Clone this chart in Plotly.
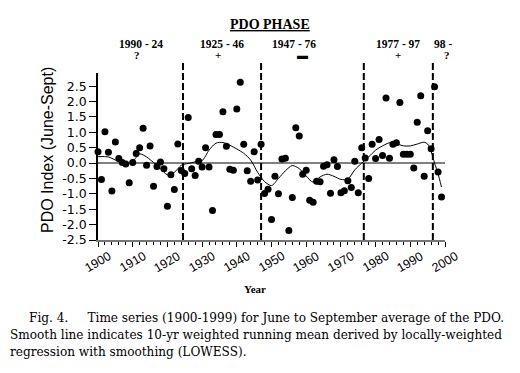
import plotly.graph_objects as go

years = list(range(1900, 2000))
pdo = [0.37, -0.53, 1.02, 0.35, -0.91, 0.69, 0.15, 0.02, -0.03, -0.64,
       0.02, 0.31, 0.50, 1.13, -0.07, 0.56, -0.75, -0.11, 0.04, -0.18,
       -1.40, -0.38, -0.86, 0.62, -0.24, -0.34, 1.48, -0.18, -0.40, 0.06,
       -0.13, 0.50, -0.13, -1.54, 0.93, 0.93, 1.67, 0.55, -0.20, -0.23,
       1.76, 2.63, 0.61, -0.25, -0.59, 0.37, -0.55, 0.61, -0.99, -0.85,
       -1.83, -0.43, -1.00, 0.13, 0.16, -2.19, -1.12, 1.15, 0.88, -0.36,
       -0.23, -1.21, -1.27, -0.59, -0.61, -0.10, -0.05, -0.98, 0.11, -0.11,
       -0.96, -0.90, -0.57, -0.79, 0.06, -0.96, 0.50, 0.17, -0.50, 0.61,
       0.15, 0.77, 0.25, 2.12, 0.16, 0.61, 0.66, 1.97, 0.29, 0.29,
       0.29, -0.16, 1.33, 2.19, -0.43, 1.05, 0.47, 2.48, -0.29, -1.10]

smooth_years = [1900, 1903, 1905, 1908, 1910, 1912, 1914, 1916, 1918, 1920,
                1922, 1924, 1926, 1928, 1930, 1932, 1934, 1936, 1938, 1940,
                1942, 1944, 1946, 1948, 1950, 1952, 1954, 1956, 1958, 1960,
                1962, 1964, 1966, 1968, 1970, 1972, 1974, 1976, 1978, 1980,
                1982, 1984, 1986, 1988, 1990, 1992, 1994, 1995, 1996, 1997,
                1998, 1999]
smooth_vals = [0.21, 0.20, 0.10, -0.05, 0.05, 0.30, 0.20, 0.02, -0.18, -0.38,
               -0.30, -0.07, -0.01, 0.04, 0.08, 0.42, 0.65, 0.67, 0.58, 0.46,
               0.32, 0.10, -0.30, -0.60, -0.73, -0.50, -0.25, -0.08, -0.18, -0.42,
               -0.62, -0.45, -0.36, -0.43, -0.53, -0.52, -0.22, 0.00, 0.20, 0.42,
               0.56, 0.66, 0.63, 0.56, 0.56, 0.62, 0.68, 0.62, 0.38, 0.00,
               -0.35, -0.78]

phase_breaks = [1924.5, 1947.0, 1976.6, 1996.5]
phase_labels = ["1990 - 24", "1925 - 46", "1947 - 76", "1977 - 97", "98 -"]
phase_signs = ["?", "+", "\u25ac", "+", "?"]
phase_label_x = [1912.3, 1935.8, 1956.5, 1986.5, 1999.5]
phase_sign_x = [1911.2, 1934.5, 1958.8, 1986.5, 2000.5]

x_ticks = list(range(1900, 2001, 10))
y_ticks = [-2.5, -2.0, -1.5, -1.0, -0.5, 0.0, 0.5, 1.0, 1.5, 2.0, 2.5]

# page body has an 8px margin; work in reference-picture pixels and shift
OFF = 8
W, H = 520 - OFF, 373 - OFF
L, R, T, B = 98 - OFF, 445 - OFF, 73 - OFF, 240 - OFF


def px(xp):
    return (xp - OFF - L) / (R - L)


def py(yp):
    return (B - (yp - OFF)) / (B - T)


def yr(y):
    return (y - 1900) / 100.0


fig = go.Figure()

fig.add_trace(go.Scatter(
    x=years, y=pdo, mode="markers",
    marker=dict(color="black", size=7),
    cliponaxis=False, showlegend=False))

fig.add_trace(go.Scatter(
    x=smooth_years, y=smooth_vals, mode="lines",
    line=dict(color="black", width=1, shape="spline", smoothing=0.8),
    showlegend=False))

shapes = [dict(type="line", xref="x", yref="y", x0=1900, x1=2000, y0=0, y1=0,
               line=dict(color="#808080", width=2), layer="below")]
for b in phase_breaks:
    shapes.append(dict(type="line", xref="paper", yref="paper", x0=yr(b), x1=yr(b),
                       y0=0, y1=py(60), line=dict(color="black", width=2, dash="7px,3px")))

serif = "Liberation Serif"
annotations = []
annotations.append(dict(text="<b><u>PDO PHASE</u></b>", x=px(270), y=py(25),
                        xref="paper", yref="paper", showarrow=False,
                        font=dict(family=serif, size=14, color="black"),
                        xanchor="center", yanchor="middle"))
for lab, lx in zip(phase_labels, phase_label_x):
    annotations.append(dict(text="<b>" + lab + "</b>", x=yr(lx), y=py(44),
                            xref="paper", yref="paper", showarrow=False,
                            font=dict(family=serif, size=11.5, color="black"),
                            xanchor="center", yanchor="middle"))
for s, sx in zip(phase_signs, phase_sign_x):
    annotations.append(dict(text="<b>" + s + "</b>", x=yr(sx), y=py(55),
                            xref="paper", yref="paper", showarrow=False,
                            font=dict(family=serif, size=11, color="black"),
                            xanchor="center", yanchor="middle"))

# rotated x tick labels, centred under their ticks
for t in x_ticks:
    annotations.append(dict(text=str(t), x=yr(t), y=py(262), xref="paper", yref="paper",
                            showarrow=False, textangle=-30,
                            font=dict(family="Liberation Sans", size=12.5, color="black"),
                            xanchor="center", yanchor="middle"))

annotations.append(dict(text="PDO Index (June-Sept)", x=px(47), y=py(150),
                        xref="paper", yref="paper", showarrow=False, textangle=-90,
                        font=dict(family="Liberation Sans", size=16, color="black"),
                        xanchor="center", yanchor="middle"))
annotations.append(dict(text="<b>Year</b>", x=px(255), y=py(289),
                        xref="paper", yref="paper", showarrow=False,
                        font=dict(family=serif, size=11, color="black"),
                        xanchor="center", yanchor="middle"))

cap = "DejaVu Serif"
nb = "\u00a0"
cap_lines = [
    ("Fig." + nb + "4." + nb * 5 + "Time series (1900-1999) for June to September average of the PDO.", 27, 318),
    ("Smooth line indicates 10-yr weighted running mean derived by locally-weighted", 8, 335),
    ("regression with smoothing (LOWESS).", 8, 352),
]
for t, xx, yy in cap_lines:
    annotations.append(dict(text=t, x=px(xx), y=py(yy), xref="paper", yref="paper",
                            showarrow=False, font=dict(family=cap, size=12.1, color="black"),
                            xanchor="left", yanchor="middle"))

fig.update_layout(
    width=W, height=H,
    margin=dict(l=L, r=W - R, t=T, b=H - B, pad=0),
    paper_bgcolor="white", plot_bgcolor="white",
    shapes=shapes, annotations=annotations,
    xaxis=dict(range=[1900, 2000], tickvals=x_ticks, showticklabels=False,
               ticks="outside", ticklen=5, automargin=False,
               tickwidth=1, tickcolor="black", showgrid=False, zeroline=False,
               showline=True, linecolor="#777777", linewidth=2,
               minor=dict(dtick=2, ticks="outside", ticklen=3, tickcolor="black", showgrid=False)),
    yaxis=dict(range=[-2.5, 2.93], tickvals=y_ticks, automargin=False,
               ticktext=["%.1f" % v for v in y_ticks],
               ticks="outside", ticklen=7, tickwidth=1, tickcolor="black",
               showgrid=False, zeroline=False, showline=True, linecolor="black",
               linewidth=1.5, ticklabelstandoff=0,
               tickfont=dict(family="DejaVu Sans", size=12.5, color="black")),
)

fig.write_html("out.html")
